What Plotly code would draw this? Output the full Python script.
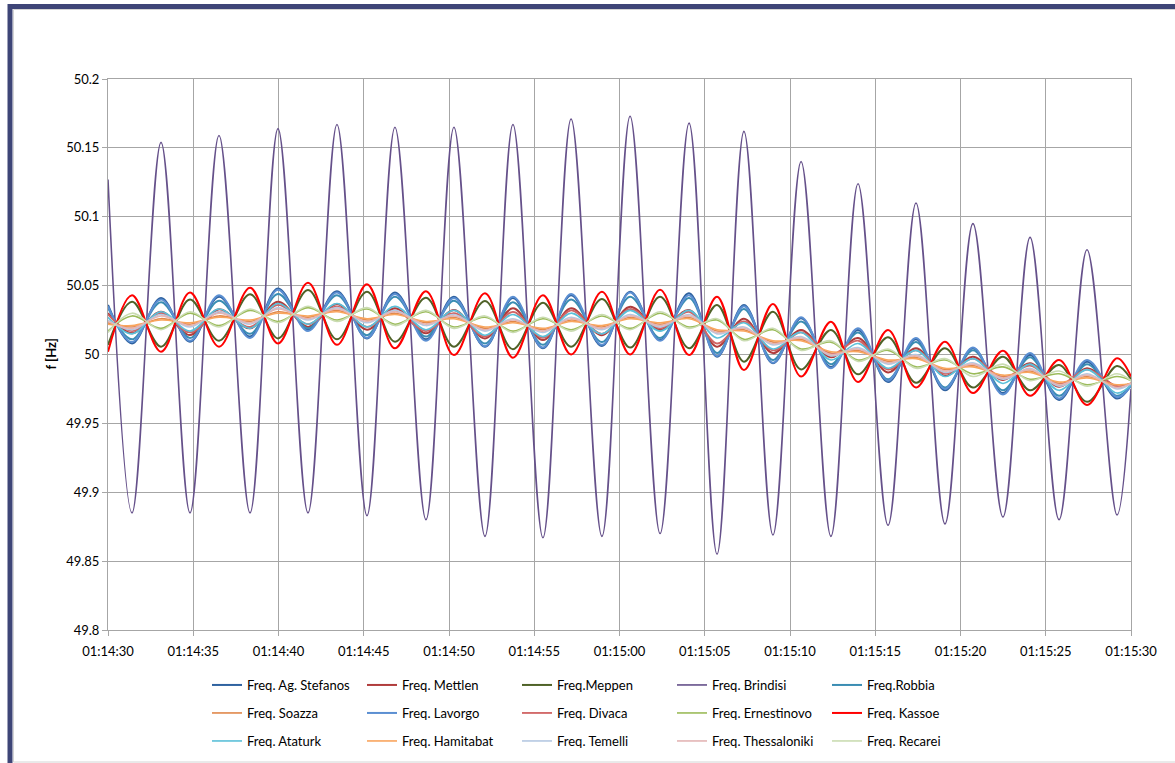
import pandas as pd
import plotly.graph_objects as go

# ---------------- data ----------------
# seconds after 01:14:30 at which the oscillation extremes occur
t_sec = [0.00, 1.41, 3.11, 4.81, 6.51, 8.33, 9.97, 11.73, 13.43, 15.19, 16.83, 18.65,
         20.29, 22.11, 23.75, 25.51, 27.16, 28.97, 30.62, 32.38, 34.08, 35.72, 37.30,
         39.00, 40.65, 42.40, 43.99, 45.75, 47.39, 49.09, 50.73, 52.49, 54.08, 55.78,
         57.42, 59.18, 60.00]

ag_stefanos = [50.036, 50.008, 50.041, 50.0093, 50.042, 50.013, 50.048, 50.0178, 50.046, 50.0117,
               50.045, 50.011, 50.042, 50.0057, 50.041, 50.0045, 50.043, 50.0062, 50.0456, 50.0105,
               50.0444, 49.9984, 50.036, 49.9936, 50.0263, 49.991, 50.0178, 49.980, 50.011, 49.974,
               50.0045, 49.972, 49.9996, 49.967, 49.9948, 49.968, 49.978]
mettlen = [50.030, 50.0154, 50.031, 50.0141, 50.0328, 50.019, 50.0383, 50.020, 50.0367, 50.018,
           50.0335, 50.0154, 50.0323, 50.0117, 50.0335, 50.0105, 50.0335, 50.014, 50.0347, 50.0178,
           50.0323, 50.0057, 50.026, 50.001, 50.0178, 49.998, 50.012, 49.987, 50.0045, 49.9844,
           49.9984, 49.9815, 49.9936, 49.9766, 49.990, 49.9766, 49.979]
meppen = [50.007, 50.0383, 50.0057, 50.040, 50.010, 50.0437, 50.0117, 50.0468, 50.011, 50.0456,
          50.0093, 50.0412, 50.0057, 50.0388, 50.0038, 50.0376, 50.0057, 50.0403, 50.005, 50.042,
          50.0045, 50.036, 49.9948, 50.031, 49.9892, 50.0178, 49.9856, 50.0125, 49.9795, 50.0045,
          49.976, 49.9984, 49.974, 49.9924, 49.9657, 49.9916, 49.982]
brindisi = [50.127, 49.885, 50.154, 49.885, 50.159, 49.885, 50.164, 49.885, 50.167, 49.883,
            50.165, 49.880, 50.165, 49.868, 50.167, 49.867, 50.171, 49.868, 50.173, 49.870,
            50.168, 49.855, 50.162, 49.869, 50.140, 49.868, 50.124, 49.876, 50.110, 49.877,
            50.095, 49.882, 50.085, 49.880, 50.076, 49.8835, 49.975]
robbia = [50.034, 50.011, 50.038, 50.012, 50.039, 50.015, 50.044, 50.019, 50.043, 50.014,
          50.042, 50.013, 50.039, 50.008, 50.038, 50.007, 50.040, 50.009, 50.042, 50.012,
          50.041, 50.001, 50.033, 49.996, 50.024, 49.993, 50.016, 49.982, 50.009, 49.976,
          50.003, 49.974, 49.998, 49.970, 49.993, 49.970, 49.978]
soazza = [50.023, 50.020, 50.026, 50.022, 50.028, 50.024, 50.031, 50.027, 50.032, 50.025,
          50.030, 50.023, 50.027, 50.019, 50.024, 50.018, 50.025, 50.020, 50.027, 50.022,
          50.027, 50.017, 50.018, 50.009, 50.011, 50.001, 50.003, 49.995, 49.998, 49.989,
          49.992, 49.984, 49.988, 49.979, 49.984, 49.977, 49.979]
lavorgo = [50.035, 50.009, 50.040, 50.010, 50.043, 50.012, 50.047, 50.017, 50.045, 50.012,
           50.044, 50.010, 50.041, 50.006, 50.042, 50.005, 50.044, 50.007, 50.045, 50.010,
           50.043, 49.999, 50.035, 49.994, 50.027, 49.990, 50.019, 49.981, 50.012, 49.975,
           50.005, 49.971, 50.001, 49.968, 49.996, 49.969, 49.977]
divaca = [50.029, 50.017, 50.030, 50.016, 50.031, 50.020, 50.036, 50.022, 50.035, 50.020,
          50.032, 50.017, 50.030, 50.013, 50.031, 50.012, 50.032, 50.015, 50.033, 50.019,
          50.031, 50.008, 50.024, 50.003, 50.016, 50.000, 50.010, 49.989, 50.003, 49.986,
          49.997, 49.983, 49.992, 49.978, 49.989, 49.977, 49.979]
ernestinovo = [50.017, 50.028, 50.019, 50.030, 50.021, 50.032, 50.024, 50.034, 50.025, 50.033,
               50.022, 50.031, 50.020, 50.027, 50.017, 50.026, 50.018, 50.028, 50.019, 50.030,
               50.020, 50.025, 50.011, 50.018, 50.004, 50.009, 49.996, 50.003, 49.991, 49.996,
               49.986, 49.991, 49.982, 49.986, 49.978, 49.984, 49.981]
kassoe = [50.002, 50.043, 50.002, 50.045, 50.0057, 50.0485, 50.008, 50.052, 50.007, 50.051,
          50.0045, 50.046, 49.9996, 50.0444, 49.9977, 50.043, 50.000, 50.0456, 50.000, 50.047,
          49.9996, 50.042, 49.9887, 50.0367, 49.984, 50.0238, 49.980, 50.0178, 49.976, 50.0093,
          49.972, 50.0028, 49.970, 49.996, 49.9633, 49.9972, 49.984]
ataturk = [50.027, 50.015, 50.031, 50.017, 50.033, 50.019, 50.037, 50.022, 50.037, 50.020,
           50.035, 50.018, 50.032, 50.014, 50.029, 50.013, 50.030, 50.015, 50.032, 50.017,
           50.032, 50.012, 50.023, 50.004, 50.016, 49.996, 50.008, 49.990, 50.003, 49.984,
           49.997, 49.979, 49.993, 49.974, 49.989, 49.972, 49.978]
hamitabat = [50.022, 50.021, 50.025, 50.023, 50.027, 50.025, 50.030, 50.028, 50.031, 50.026,
             50.029, 50.024, 50.026, 50.020, 50.023, 50.019, 50.024, 50.021, 50.026, 50.023,
             50.026, 50.018, 50.017, 50.010, 50.010, 50.002, 50.002, 49.996, 49.997, 49.990,
             49.991, 49.985, 49.987, 49.980, 49.983, 49.978, 49.979]
temelli = [50.025, 50.018, 50.029, 50.020, 50.031, 50.022, 50.034, 50.025, 50.034, 50.023,
           50.032, 50.021, 50.029, 50.017, 50.026, 50.016, 50.027, 50.018, 50.029, 50.020,
           50.029, 50.015, 50.020, 50.007, 50.013, 49.999, 50.005, 49.993, 50.000, 49.987,
           49.994, 49.982, 49.990, 49.977, 49.986, 49.975, 49.979]
thessaloniki = [50.024, 50.019, 50.028, 50.021, 50.030, 50.023, 50.033, 50.026, 50.033, 50.024,
                50.031, 50.022, 50.028, 50.018, 50.025, 50.017, 50.026, 50.019, 50.028, 50.021,
                50.028, 50.016, 50.019, 50.008, 50.012, 50.000, 50.004, 49.994, 49.999, 49.988,
                49.993, 49.983, 49.989, 49.978, 49.985, 49.976, 49.979]
recarei = [50.016, 50.030, 50.018, 50.031, 50.020, 50.033, 50.023, 50.035, 50.024, 50.034,
           50.021, 50.032, 50.019, 50.028, 50.016, 50.027, 50.017, 50.029, 50.018, 50.031,
           50.019, 50.026, 50.010, 50.019, 50.003, 50.010, 49.995, 50.004, 49.990, 49.997,
           49.984, 49.993, 49.981, 49.988, 49.977, 49.986, 49.981]

series_names = ["Freq. Ag. Stefanos", "Freq. Mettlen", "Freq.Meppen", "Freq. Brindisi", "Freq.Robbia",
                "Freq. Soazza", "Freq. Lavorgo", "Freq. Divaca", "Freq. Ernestinovo", "Freq. Kassoe",
                "Freq. Ataturk", "Freq. Hamitabat", "Freq. Temelli", "Freq. Thessaloniki", "Freq. Recarei"]
series_values = [ag_stefanos, mettlen, meppen, brindisi, robbia,
                 soazza, lavorgo, divaca, ernestinovo, kassoe,
                 ataturk, hamitabat, temelli, thessaloniki, recarei]

y_tick_vals = [49.8, 49.85, 49.9, 49.95, 50.0, 50.05, 50.1, 50.15, 50.2]
y_tick_labels = ["49.8", "49.85", "49.9", "49.95", "50", "50.05", "50.1", "50.15", "50.2"]

# ---------------- styles ----------------
colors = ["#2F62A0", "#B03C3C", "#4F6228", "#65508A", "#3A8DB3",
          "#E0874A", "#5B8FD2", "#D06464", "#9BBB59", "#FF0000",
          "#5BC0D9", "#F9A55E", "#B5C8E2", "#E3B5B5", "#CADCB2"]
widths = [2, 2, 2, 1.6, 2,
          1.6, 2, 1.8, 1.6, 2,
          1.6, 1.6, 1.6, 1.6, 1.6]
legend_ids = ["legend"] * 5 + ["legend2"] * 5 + ["legend3"] * 5

base = pd.Timestamp("2000-01-01 01:14:30")
times = base + pd.to_timedelta(t_sec, unit="s")

fig = go.Figure()
for name, vals, col, w, lg in zip(series_names, series_values, colors, widths, legend_ids):
    fig.add_trace(go.Scatter(x=times, y=vals, mode="lines", name=name, legend=lg,
                             line=dict(color=col, width=w, shape="spline", smoothing=1.0)))

W, H = 1175, 763
L, R, T, B = 108, 1131, 79, 630
pw, ph = R - L, B - T


def px(xp):
    return (xp - L) / pw


def py(yp):
    return (B - yp) / ph


font_family = "Lato, 'Open Sans', sans-serif"
grid = "#A6A6A6"
txt = "#000000"

leg_common = dict(orientation="h", xanchor="left", yanchor="middle", entrywidth=110,
                  entrywidthmode="pixels", itemwidth=30, bgcolor="rgba(0,0,0,0)",
                  font=dict(family=font_family, size=13, color=txt), tracegroupgap=0)

fig.update_layout(
    width=W, height=H,
    margin=dict(l=L, r=W - R, t=T, b=H - B, autoexpand=False),
    paper_bgcolor="white", plot_bgcolor="white",
    font=dict(family=font_family, size=13, color=txt),
    showlegend=True,
    legend=dict(x=px(207), y=py(685), **leg_common),
    legend2=dict(x=px(207), y=py(713), **leg_common),
    legend3=dict(x=px(207), y=py(741), **leg_common),
    xaxis=dict(type="date", range=[base, base + pd.Timedelta(seconds=60)],
               tick0=base, dtick=5000, tickformat="%H:%M:%S",
               showgrid=True, gridcolor=grid, gridwidth=1,
               showline=True, linecolor=grid, linewidth=1, mirror=True,
               ticks="outside", ticklen=5, tickcolor=grid, zeroline=False,
               ticklabelstandoff=4,
               tickfont=dict(family=font_family, size=13, color=txt)),
    yaxis=dict(range=[49.8, 50.2], tickvals=y_tick_vals, ticktext=y_tick_labels,
               showgrid=True, gridcolor=grid, gridwidth=1,
               showline=True, linecolor=grid, linewidth=1, mirror=True,
               ticks="outside", ticklen=5, tickcolor=grid, zeroline=False,
               tickfont=dict(family=font_family, size=13, color=txt)),
    annotations=[dict(text="<b>f [Hz]</b>", textangle=-90, xref="paper", yref="paper",
                      x=px(40), y=0.5, showarrow=False,
                      font=dict(family=font_family, size=13, color=txt))],
    shapes=[
        dict(type="rect", xref="paper", yref="paper", x0=px(10), y0=py(6.5), x1=px(1300), y1=py(900),
             line=dict(color="#3E4577", width=5), fillcolor="rgba(0,0,0,0)", layer="above"),
        dict(type="rect", xref="paper", yref="paper", x0=px(13.5), y0=py(9.5), x1=px(1300), y1=py(762),
             line=dict(color="#D4D4D4", width=1), fillcolor="rgba(0,0,0,0)", layer="above"),
    ],
)

fig.write_html("out.html")
